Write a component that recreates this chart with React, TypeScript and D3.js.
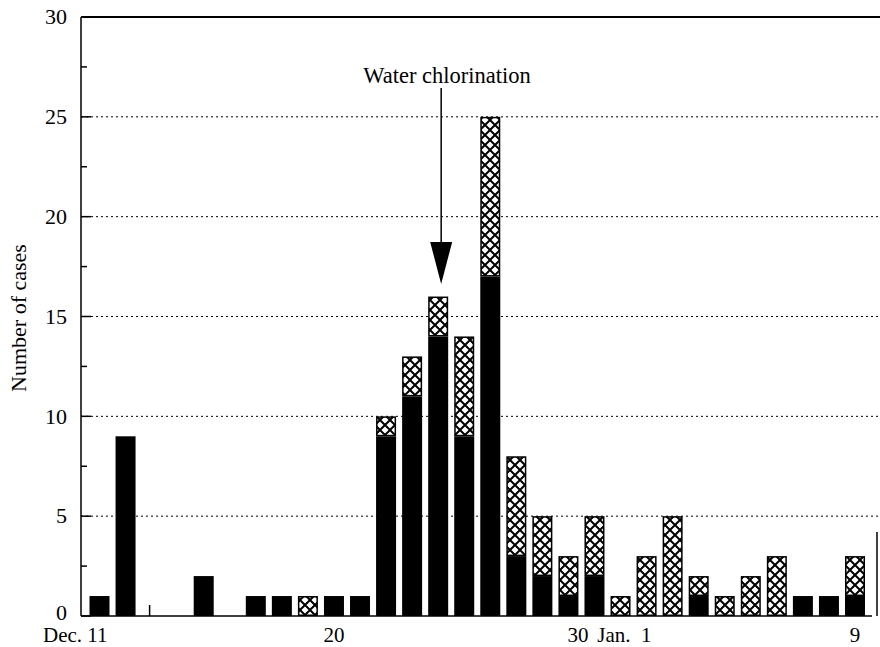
import React from "react";
import * as d3 from "d3";

const dates = [
  "Dec 11","Dec 12","Dec 13","Dec 14","Dec 15","Dec 16","Dec 17","Dec 18","Dec 19","Dec 20",
  "Dec 21","Dec 22","Dec 23","Dec 24","Dec 25","Dec 26","Dec 27","Dec 28","Dec 29","Dec 30",
  "Dec 31","Jan 1","Jan 2","Jan 3","Jan 4","Jan 5","Jan 6","Jan 7","Jan 8","Jan 9",
];
const solidCases = [1,9,0,0,2,0,1,1,0,1, 1,9,11,14,9,17,3,2,1,2, 0,0,0,1,0,0,0,1,1,1];
const hatchedCases = [0,0,0,0,0,0,0,0,1,0, 0,1,2,2,5,8,5,3,2,3, 1,3,5,1,1,2,3,0,0,2];
const yTicks = [0, 5, 10, 15, 20, 25, 30];
const gridValues = [5, 10, 15, 20, 25];
const minorTicks = [2.5, 7.5, 12.5, 17.5, 22.5, 27.5];
const xLabels = [
  { date: "Dec 11", text: "Dec. 11" },
  { date: "Dec 20", text: "20" },
  { date: "Dec 30", text: "30" },
  { date: "Jan 1", text: "Jan.  1" },
  { date: "Jan 9", text: "9" },
];
const annotation = { date: "Dec 24", text: "Water chlorination" };

const W = 880, H = 647;
const left = 81, right = 880, top = 17, bottom = 616;
const font = "'Liberation Serif', 'DejaVu Serif', serif";

export default function App() {
  const x = d3.scalePoint<string>().domain(dates).range([99.5, 855]);
  const y = d3.scaleLinear().domain([0, 30]).range([bottom, top]);
  const bw = 20;
  const ax = x(annotation.date)! + 3;

  return (
    <div style={{ position: "absolute", left: 0, top: 0 }}>
      <svg width={W} height={H} style={{ display: "block", background: "#fff" }}>
        <defs>
          <pattern id="hatch" patternUnits="userSpaceOnUse" width={10} height={10}>
            <rect width={10} height={10} fill="#fff" />
            <path d="M0,0L10,10M10,0L0,10M-1,9L1,11M9,-1L11,1" stroke="#000" strokeWidth={2} />
          </pattern>
        </defs>
        {gridValues.map((v) => (
          <line key={v} x1={left} x2={right} y1={y(v)} y2={y(v)} stroke="#000"
            strokeWidth={1} strokeDasharray="2,3" />
        ))}
        <line x1={left} x2={right} y1={y(30)} y2={y(30)} stroke="#000" strokeWidth={2} />
        <line x1={877} x2={877} y1={532} y2={bottom} stroke="#000" strokeWidth={1.5} />
        <line x1={left} x2={left} y1={y(30)} y2={bottom} stroke="#000" strokeWidth={1.5} />
        {yTicks.map((v) => (
          <g key={v}>
            <line x1={left} x2={left + 10} y1={y(v)} y2={y(v)} stroke="#000" strokeWidth={1.5} />
            <text x={67} y={y(v)} dy={v === 0 ? "0.2em" : "0.33em"} textAnchor="end" fontFamily={font} fontSize={22}>{v}</text>
          </g>
        ))}
        {minorTicks.map((v) => (
          <line key={v} x1={left} x2={left + 6} y1={y(v)} y2={y(v)} stroke="#000" strokeWidth={1.5} />
        ))}
        <line x1={left} x2={right - 8} y1={bottom} y2={bottom} stroke="#000" strokeWidth={1.5} />
        <line x1={x("Dec 13")! - 2} x2={x("Dec 13")! - 2} y1={bottom} y2={bottom - 11} stroke="#000" strokeWidth={1.5} />
        {dates.map((d, i) => {
          const s = solidCases[i], h = hatchedCases[i];
          const cx = x(d)!;
          return (
            <g key={d}>
              {s > 0 && (
                <rect x={cx - bw / 2} width={bw} y={y(s)} height={y(0) - y(s)} fill="#000" />
              )}
              {h > 0 && (
                <rect x={cx - bw / 2 + 0.75} width={bw - 1.5} y={y(s + h) + 0.75}
                  height={y(s) - y(s + h) - 1.5} fill="url(#hatch)" stroke="#000" strokeWidth={1.5} />
              )}
            </g>
          );
        })}
        {xLabels.map((l) => {
          const cx = x(l.date)!;
          let tx = cx, anchor: "start" | "middle" | "end" = "middle";
          if (l.text === "Dec. 11") { tx = cx + 8; anchor = "end"; }
          else if (l.text === "30") { tx = cx - 6; anchor = "end"; }
          else if (l.text.startsWith("Jan")) { tx = cx + 5; anchor = "end"; }
          return (
            <text key={l.date} x={tx} y={642} textAnchor={anchor} fontFamily={font} fontSize={21}
              style={{ whiteSpace: "pre" }}>{l.text}</text>
          );
        })}
        <text transform={`translate(26,${318}) rotate(-90)`} textAnchor="middle" fontFamily={font} fontSize={22}>
          Number of cases
        </text>
        <text x={447} y={83} textAnchor="middle" fontFamily={font} fontSize={22.5}>{annotation.text}</text>
        <line x1={ax} x2={ax} y1={88} y2={245} stroke="#000" strokeWidth={1.5} />
        <path d={`M${ax - 11},${242}L${ax + 11},${242}L${ax},${284}Z`} fill="#000" />
      </svg>
    </div>
  );
}
